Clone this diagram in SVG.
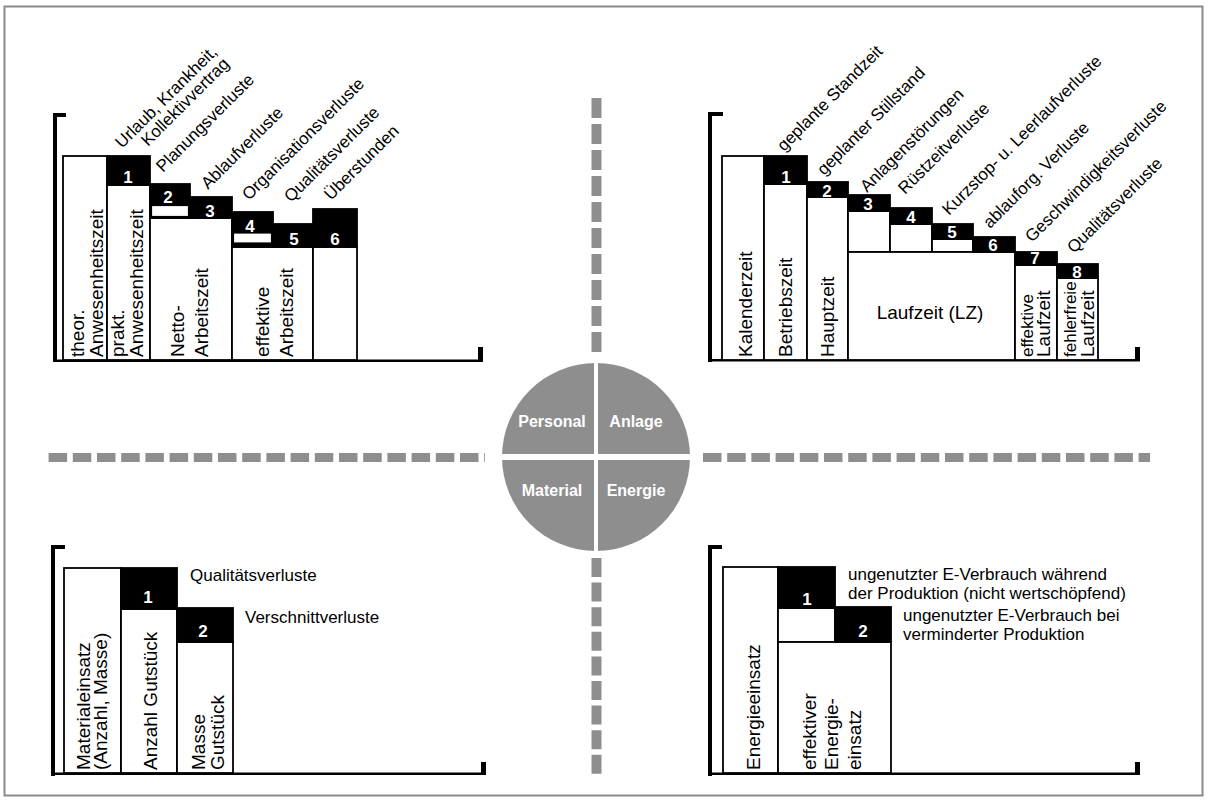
<svg xmlns="http://www.w3.org/2000/svg" width="1208" height="801" viewBox="0 0 1208 801">
  <style>
    .frame { fill: none; stroke: #8a8a8a; stroke-width: 2; }
    .axis { fill: #000; }
    .bar { fill: #fff; stroke: #000; stroke-width: 1.8; }
    .loss { fill: #000; stroke: #000; stroke-width: 1.8; }
    .gap { fill: #fff; stroke: #000; stroke-width: 1.2; }
    .num { font-family: "Liberation Sans", Arial, sans-serif; font-weight: bold; font-size: 17px; fill: #fff; text-anchor: middle; }
    .lbl { font-family: "Liberation Sans", Arial, sans-serif; font-size: 17px; fill: #000; }
    .vt { font-family: "Liberation Sans", Arial, sans-serif; font-size: 19px; fill: #000; }
    .vs { font-family: "Liberation Sans", Arial, sans-serif; font-size: 17px; fill: #000; }
    .dash { fill: none; stroke: #8e8e8e; }
    .seg { font-family: "Liberation Sans", Arial, sans-serif; font-weight: bold; font-size: 16px; fill: #fff; text-anchor: middle; }
  </style>

  <rect class="frame" x="4.5" y="6.5" width="1198" height="789"/>

  <!-- dashed quadrant separators -->
  <g id="connectors">
    <line class="dash" x1="48.6" y1="457.5" x2="485" y2="457.5" stroke-width="9" stroke-dasharray="18.5 5.7"/>
    <line class="dash" x1="703" y1="457.5" x2="1150" y2="457.5" stroke-width="9" stroke-dasharray="18.5 5.7"/>
    <line class="dash" x1="596.5" y1="98" x2="596.5" y2="352" stroke-width="10" stroke-dasharray="20 6"/>
    <line class="dash" x1="596.5" y1="558" x2="596.5" y2="774" stroke-width="10" stroke-dasharray="19 5.6"/>
  </g>

  <!-- central resource disc -->
  <g id="hub">
    <circle cx="596" cy="457" r="94" fill="#8e8e8e"/>
    <rect x="594" y="362" width="4" height="190" fill="#fff"/>
    <rect x="500" y="454" width="192" height="6" fill="#fff"/>
    <text class="seg" x="552" y="427">Personal</text>
    <text class="seg" x="636" y="427">Anlage</text>
    <text class="seg" x="552" y="496">Material</text>
    <text class="seg" x="636" y="496">Energie</text>
  </g>

  <!-- Personal: working time losses -->
  <g id="personal">
    <rect class="axis" x="53" y="113" width="4" height="249"/>
    <rect class="axis" x="53" y="113" width="13" height="4"/>
    <rect class="axis" x="53" y="359.5" width="430" height="2.5"/>
    <rect class="axis" x="478" y="347" width="5" height="15"/>

    <g id="p-theor">
      <rect class="bar" x="63" y="156" width="44" height="204"/>
      <text class="vt" transform="translate(84,357) rotate(-90)">theor.</text>
      <text class="vt" transform="translate(103,357) rotate(-90)">Anwesenheitszeit</text>
    </g>
    <g id="p-prakt">
      <rect class="bar" x="107" y="185" width="43" height="175"/>
      <text class="vt" transform="translate(124,357) rotate(-90)">prakt.</text>
      <text class="vt" transform="translate(143,357) rotate(-90)">Anwesenheitszeit</text>
    </g>
    <g id="p-netto">
      <rect class="bar" x="150" y="218" width="82" height="142"/>
      <text class="vt" transform="translate(184,357) rotate(-90)">Netto-</text>
      <text class="vt" transform="translate(208,357) rotate(-90)">Arbeitszeit</text>
    </g>
    <g id="p-eff">
      <rect class="bar" x="232" y="247" width="81" height="113"/>
      <text class="vt" transform="translate(269,357) rotate(-90)">effektive</text>
      <text class="vt" transform="translate(293,357) rotate(-90)">Arbeitszeit</text>
    </g>
    <g id="p-over">
      <rect class="bar" x="313" y="247" width="44" height="113"/>
    </g>

    <g id="p-loss1">
      <rect class="loss" x="107" y="156" width="43" height="29"/>
      <text class="num" x="128" y="183">1</text>
      <text class="lbl" transform="translate(122,149) rotate(-45)">Urlaub, Krankheit,</text>
      <text class="lbl" transform="translate(148,147) rotate(-45)">Kollektivvertrag</text>
    </g>
    <g id="p-loss2">
      <rect class="loss" x="150" y="184" width="40" height="34"/>
      <rect class="gap" x="151.5" y="205.5" width="37" height="11"/>
      <text class="num" x="168" y="203">2</text>
      <text class="lbl" transform="translate(163,173) rotate(-45)">Planungsverluste</text>
    </g>
    <g id="p-loss3">
      <rect class="loss" x="190" y="197" width="42" height="21"/>
      <text class="num" x="210" y="217">3</text>
      <text class="lbl" transform="translate(208,190) rotate(-45)">Ablaufverluste</text>
    </g>
    <g id="p-loss4">
      <rect class="loss" x="232" y="212" width="41" height="35"/>
      <rect class="gap" x="233.5" y="233" width="38" height="10"/>
      <text class="num" x="250" y="232">4</text>
      <text class="lbl" transform="translate(249,201) rotate(-45)">Organisationsverluste</text>
    </g>
    <g id="p-loss5">
      <rect class="loss" x="273" y="224" width="40" height="23"/>
      <text class="num" x="294" y="245">5</text>
      <text class="lbl" transform="translate(291,203) rotate(-45)">Qualitätsverluste</text>
    </g>
    <g id="p-loss6">
      <rect class="loss" x="313" y="209" width="44" height="38"/>
      <text class="num" x="335" y="245">6</text>
      <text class="lbl" transform="translate(331,201) rotate(-45)">Überstunden</text>
    </g>
  </g>

  <!-- Anlage: equipment time losses -->
  <g id="anlage">
    <rect class="axis" x="708" y="112" width="4" height="250"/>
    <rect class="axis" x="708" y="112" width="15" height="4"/>
    <rect class="axis" x="708" y="359" width="432" height="2.5"/>
    <rect class="axis" x="1135" y="347" width="5" height="14"/>

    <g id="a-kalender">
      <rect class="bar" x="722" y="156" width="42" height="204"/>
      <text class="vt" transform="translate(752,357) rotate(-90)">Kalenderzeit</text>
    </g>
    <g id="a-betrieb">
      <rect class="bar" x="764" y="184" width="43" height="176"/>
      <text class="vt" transform="translate(792,357) rotate(-90)">Betriebszeit</text>
    </g>
    <g id="a-haupt">
      <rect class="bar" x="807" y="197" width="41" height="163"/>
      <text class="vt" transform="translate(834,357) rotate(-90)">Hauptzeit</text>
    </g>
    <rect class="bar" x="848" y="211" width="42" height="41"/>
    <rect class="bar" x="890" y="224" width="42" height="28"/>
    <rect class="bar" x="932" y="239" width="41" height="13"/>
    <g id="a-lauf">
      <rect class="bar" x="848" y="252" width="167" height="108"/>
      <text class="vt" x="930" y="319" text-anchor="middle">Laufzeit (LZ)</text>
    </g>
    <g id="a-eff">
      <rect class="bar" x="1015" y="265" width="42" height="95"/>
      <text class="vs" transform="translate(1033,357) rotate(-90)">effektive</text>
      <text class="vt" transform="translate(1050,357) rotate(-90)">Laufzeit</text>
    </g>
    <g id="a-fehlerfrei">
      <rect class="bar" x="1057" y="278" width="41" height="82"/>
      <text class="vs" transform="translate(1076,357) rotate(-90)">fehlerfreie</text>
      <text class="vt" transform="translate(1094,357) rotate(-90)">Laufzeit</text>
    </g>

    <g id="a-loss1">
      <rect class="loss" x="764" y="156" width="43" height="28"/>
      <text class="num" x="786" y="183">1</text>
      <text class="lbl" transform="translate(784,152) rotate(-45)">geplante Standzeit</text>
    </g>
    <g id="a-loss2">
      <rect class="loss" x="807" y="182" width="41" height="15"/>
      <text class="num" x="827" y="197">2</text>
      <text class="lbl" transform="translate(824,176) rotate(-45)">geplanter Stillstand</text>
    </g>
    <g id="a-loss3">
      <rect class="loss" x="848" y="195" width="42" height="16"/>
      <text class="num" x="868" y="210">3</text>
      <text class="lbl" transform="translate(867,193) rotate(-45)">Anlagenstörungen</text>
    </g>
    <g id="a-loss4">
      <rect class="loss" x="890" y="208" width="42" height="16"/>
      <text class="num" x="911" y="223">4</text>
      <text class="lbl" transform="translate(905,195) rotate(-45)">Rüstzeitverluste</text>
    </g>
    <g id="a-loss5">
      <rect class="loss" x="932" y="224" width="41" height="15"/>
      <text class="num" x="952" y="238">5</text>
      <text class="lbl" transform="translate(949,216) rotate(-45)">Kurzstop- u. Leerlaufverluste</text>
    </g>
    <g id="a-loss6">
      <rect class="loss" x="973" y="237" width="42" height="15"/>
      <text class="num" x="993" y="251">6</text>
      <text class="lbl" transform="translate(990,229) rotate(-45)">ablauforg. Verluste</text>
    </g>
    <g id="a-loss7">
      <rect class="loss" x="1015" y="252" width="42" height="13"/>
      <text class="num" x="1035" y="264">7</text>
      <text class="lbl" transform="translate(1032,243) rotate(-45)">Geschwindigkeitsverluste</text>
    </g>
    <g id="a-loss8">
      <rect class="loss" x="1057" y="264" width="41" height="14"/>
      <text class="num" x="1077" y="278">8</text>
      <text class="lbl" transform="translate(1074,254) rotate(-45)">Qualitätsverluste</text>
    </g>
  </g>

  <!-- Material: material losses -->
  <g id="material">
    <rect class="axis" x="51" y="545" width="4" height="231"/>
    <rect class="axis" x="51" y="545" width="14" height="4"/>
    <rect class="axis" x="51" y="772.5" width="435" height="2.5"/>
    <rect class="axis" x="481" y="762" width="5" height="13"/>

    <g id="m-einsatz">
      <rect class="bar" x="64" y="568" width="57" height="205"/>
      <text class="vt" transform="translate(90,770) rotate(-90)">Materialeinsatz</text>
      <text class="vt" transform="translate(107,770) rotate(-90)">(Anzahl, Masse)</text>
    </g>
    <g id="m-anzahl">
      <rect class="bar" x="121" y="609" width="56" height="164"/>
      <text class="vt" transform="translate(157,770) rotate(-90)">Anzahl Gutstück</text>
    </g>
    <g id="m-masse">
      <rect class="bar" x="177" y="642" width="56" height="131"/>
      <text class="vt" transform="translate(205,770) rotate(-90)">Masse</text>
      <text class="vt" transform="translate(224,770) rotate(-90)">Gutstück</text>
    </g>
    <g id="m-loss1">
      <rect class="loss" x="121" y="568" width="56" height="41"/>
      <text class="num" x="148" y="603">1</text>
      <text class="lbl" x="190" y="581">Qualitätsverluste</text>
    </g>
    <g id="m-loss2">
      <rect class="loss" x="177" y="608" width="56" height="34"/>
      <text class="num" x="203" y="637">2</text>
      <text class="lbl" x="245" y="623">Verschnittverluste</text>
    </g>
  </g>

  <!-- Energie: energy losses -->
  <g id="energie">
    <rect class="axis" x="708" y="545" width="4" height="231"/>
    <rect class="axis" x="708" y="545" width="14" height="4"/>
    <rect class="axis" x="708" y="772.5" width="432" height="2.5"/>
    <rect class="axis" x="1135" y="762" width="5" height="13"/>

    <g id="e-einsatz">
      <rect class="bar" x="723" y="567" width="55" height="206"/>
      <text class="vt" transform="translate(760,770) rotate(-90)">Energieeinsatz</text>
    </g>
    <rect class="bar" x="778" y="608" width="57" height="34"/>
    <g id="e-eff">
      <rect class="bar" x="778" y="642" width="113" height="131"/>
      <text class="vt" transform="translate(816,770) rotate(-90)">effektiver</text>
      <text class="vt" transform="translate(838,770) rotate(-90)">Energie-</text>
      <text class="vt" transform="translate(861,770) rotate(-90)">einsatz</text>
    </g>
    <g id="e-loss1">
      <rect class="loss" x="778" y="567" width="57" height="41"/>
      <text class="num" x="807" y="605">1</text>
      <text class="lbl" x="848" y="580">ungenutzter E-Verbrauch während</text>
      <text class="lbl" x="848" y="599">der Produktion (nicht wertschöpfend)</text>
    </g>
    <g id="e-loss2">
      <rect class="loss" x="835" y="607" width="56" height="35"/>
      <text class="num" x="863" y="637">2</text>
      <text class="lbl" x="903" y="621">ungenutzter E-Verbrauch bei</text>
      <text class="lbl" x="903" y="640">verminderter Produktion</text>
    </g>
  </g>
</svg>
